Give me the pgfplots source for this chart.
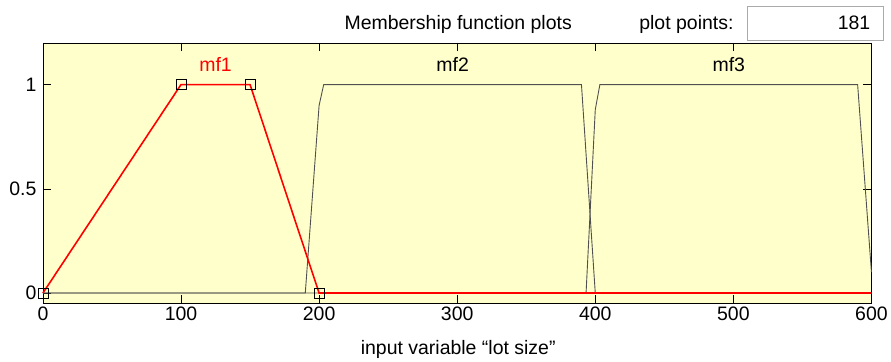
\documentclass[border=0pt]{standalone}
\usepackage{pgfplots}
\pgfplotsset{compat=1.18}
\usepackage{fontspec}
\setmainfont{Liberation Sans}
\definecolor{bg}{RGB}{255,255,204}
\definecolor{mfgray}{RGB}{80,80,80}
\definecolor{mfred}{RGB}{255,0,0}
\definecolor{boxgray}{RGB}{170,170,170}
\begin{document}
\begin{tikzpicture}
\begin{axis}[
  scale only axis, width=830pt, height=261pt,
  xmin=0, xmax=600, ymin=-0.05, ymax=1.2,
  xtick={0,100,200,300,400,500,600}, ytick={0,0.5,1},
  axis background/.style={fill=bg},
  tick align=inside, major tick length=8pt,
  every tick/.style={black, line width=0.6pt},
  axis line style={black, line width=0.8pt},
  tick label style={font=\fontsize{19.5}{22}\selectfont, black},
  yticklabel style={xshift=-3pt},
  /pgf/number format/assume math mode=true,
  clip=false,
]
% mf2
\addplot[mfgray, line width=0.9pt] coordinates {
 (0,0) (190,0) (200,0.9) (203.33,1) (390,1) (400,0) (600,0)};
% mf3
\addplot[mfgray, line width=0.9pt] coordinates {
 (0,0) (393.33,0) (400,0.88) (403.33,1) (590,1) (600,0.1)};
% mf1
\addplot[mfred, line width=1.6pt] coordinates {
 (0,0) (100,1) (150,1) (200,0) (600,0)};
\addplot[only marks, mark=square, mark size=5pt, mark options={black, line width=0.7pt, fill=none}] coordinates {
 (0,0) (100,1) (150,1) (200,0)};
\node[anchor=base, text=mfred, font=\fontsize{19.5}{22}\selectfont] at (axis cs:125,1.065) {mf1};
\node[anchor=base, text=black, font=\fontsize{19.5}{22}\selectfont] at (axis cs:296.7,1.065) {mf2};
\node[anchor=base, text=black, font=\fontsize{19.5}{22}\selectfont] at (axis cs:496.7,1.065) {mf3};
\end{axis}
\node[anchor=base, font=\fontsize{19.5}{22}\selectfont] at (416pt,274pt) {Membership function plots};
\node[anchor=base east, font=\fontsize{19.5}{22}\selectfont, inner sep=0pt] at (692pt,274pt) {plot points:};
\draw[boxgray, fill=white, line width=0.8pt] (706pt,264pt) rectangle (842pt,298pt);
\node[anchor=base east, font=\fontsize{19.5}{22}\selectfont, inner sep=0pt] at (829pt,274pt) {181};
\node[anchor=base, font=\fontsize{19.5}{22}\selectfont] at (416pt,-51pt) {input variable “lot size”};
\path[use as bounding box] (-43pt,-57pt) rectangle (848pt,304pt);
\end{tikzpicture}
\end{document}
